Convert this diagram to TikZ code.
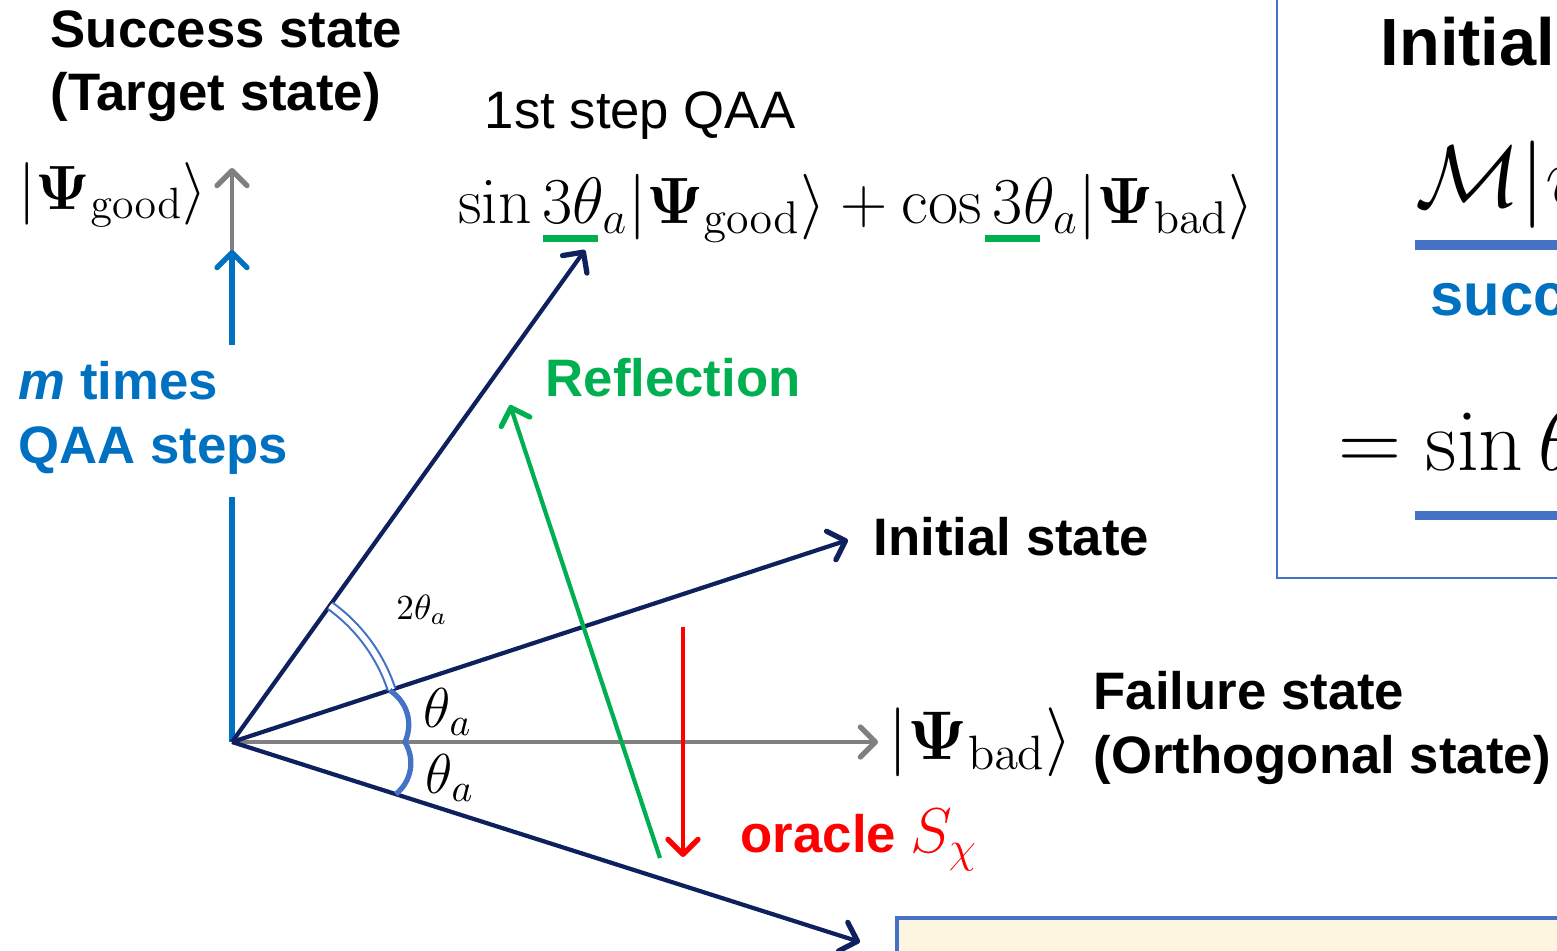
\RequirePackage{fix-cm}
\documentclass[tikz,border=0pt]{standalone}
\usepackage[no-math]{fontspec}
\setsansfont{Liberation Sans}
\usetikzlibrary{arrows.meta,calc}
\definecolor{qaanavy}{RGB}{14,32,94}
\definecolor{qaagray}{RGB}{128,128,128}
\definecolor{qaablue}{RGB}{0,112,192}
\definecolor{qaagreen}{RGB}{0,176,80}
\definecolor{qaared}{RGB}{255,0,0}
\definecolor{boxblue}{RGB}{68,114,196}
\definecolor{boxyellow}{RGB}{253,245,224}
\begin{document}
\begin{tikzpicture}
  [tip/.style={-{Straight Barb[length=1.5mm,width=3mm,line width=1.5pt,round]}},
   vec/.style={draw=qaanavy,line width=1.2pt,tip},
   axis/.style={draw=qaagray,line width=1.2pt,tip},
   lbl/.style={font=\sffamily\bfseries\fontsize{15}{18}\selectfont,align=left,inner sep=0pt},
   ket/.style={inner sep=0pt,font=\fontsize{17.8}{21}\selectfont},
   ang/.style={draw=boxblue,line width=1.5pt}]
  \useasboundingbox (0,0) rectangle (15.57,9.5);
  \clip (0,0) rectangle (15.57,9.5);
  % axes
  \coordinate (O) at (2.32,2.08);
  \coordinate (good) at (2.32,7.82);
  \coordinate (bad) at (8.78,2.08);
  \coordinate (mlow) at (2.32,4.53);
  \coordinate (mup) at (2.32,6.05);
  \coordinate (mtip) at (2.32,7.00);
  \draw[axis] (mup) -- (good);
  \draw[axis] (O) -- (bad);
  \node[ket,anchor=east] (goodlbl) at (2.08,7.55) {$|\mathbf{\Psi}_{\rm good}\rangle$};
  \node[ket,anchor=west,font=\fontsize{19.6}{23}\selectfont] (badlbl) at (8.88,2.08) {$|\mathbf{\Psi}_{\rm bad}\rangle$};
  % m times QAA steps
  \draw[qaablue,line width=1.8pt] (O) -- (mlow);
  \draw[qaablue,line width=1.8pt,tip] (mup) -- (mtip);
  \node[lbl,text=qaablue,anchor=west] (msteps) at (0.18,5.32)
    {\textit{m} times\\QAA steps};
  % state vectors
  \coordinate (init) at (8.48,4.10);
  \coordinate (step) at (5.85,7.00);
  \coordinate (low) at (8.60,0.08);
  \draw[vec] (O) -- (init);
  \draw[vec] (O) -- (step);
  \draw[vec] (O) -- (low);
  % angles
  \draw[boxblue,double=white,double distance=1.6pt,line width=0.6pt]
    ($(O)!1.68cm!(init)$) arc[start angle=18.2,end angle=54.3,radius=1.68cm];
  \coordinate (a1) at ($(O)!1.66cm!(init)$);
  \coordinate (a2) at (4.05,2.08);
  \coordinate (a3) at ($(O)!1.72cm!(low)$);
  \draw[ang] (a1) to[bend left=40] (a2) to[bend left=40] (a3);
  \node (twotheta) at (4.22,3.40) {$2\theta_a$};
  \node[font=\fontsize{16}{18}\selectfont] (theta1) at (4.48,2.38) {$\theta_a$};
  \node[font=\fontsize{16}{18}\selectfont] (theta2) at (4.50,1.72) {$\theta_a$};
  % reflection and oracle
  \coordinate (gstart) at (6.60,0.92);
  \coordinate (gend) at (5.10,5.45);
  \draw[qaagreen,line width=1.2pt,tip] (gstart) -- (gend);
  \node[lbl,text=qaagreen,anchor=west] (refl) at (5.45,5.72) {Reflection};
  \coordinate (rstart) at (6.83,3.23);
  \coordinate (rend) at (6.83,0.93);
  \draw[qaared,line width=1.1pt,tip] (rstart) -- (rend);
  \node[lbl,text=qaared,anchor=west] (oracle) at (7.40,1.10)
    {oracle \normalfont\fontsize{18}{20}\selectfont$S_\chi$};
  % labels
  \node[lbl,anchor=west] (succ) at (0.50,8.84) {Success state\\(Target state)};
  \node[lbl,font=\sffamily\fontsize{15}{18}\selectfont] (first) at (6.40,8.34) {1st step QAA};
  \node[ket,font=\fontsize{18.65}{22}\selectfont] (formula) at (8.56,7.42)
    {$\sin 3\theta_a|\mathbf{\Psi}_{\rm good}\rangle+\cos 3\theta_a|\mathbf{\Psi}_{\rm bad}\rangle$};
  \fill[qaagreen] (5.43,7.08) rectangle (5.98,7.15);
  \fill[qaagreen] (9.85,7.08) rectangle (10.40,7.15);
  \node[lbl,anchor=west] (initlbl) at (8.73,4.13) {Initial state};
  \node[lbl,anchor=west] (fail) at (10.93,2.22) {Failure state\\(Orthogonal state)};
  % side boxes
  \draw[boxblue,line width=0.7pt] (12.77,3.72) rectangle (16.5,10);
  \node[lbl,anchor=west,font=\sffamily\bfseries\fontsize{19}{22}\selectfont] (boxtitle) at (13.80,9.08) {Initial state};
  \node[anchor=west,inner sep=0pt,font=\fontsize{24.88}{28}\selectfont] (mpsi) at (14.15,7.65) {$\mathcal{M}|\psi\rangle$};
  \fill[boxblue] (14.15,7.00) rectangle (16.5,7.10);
  \node[lbl,text=qaablue,anchor=west,font=\sffamily\bfseries\fontsize{17}{20}\selectfont] (success) at (14.30,6.50) {success};
  \node[anchor=west,inner sep=0pt,font=\fontsize{24.88}{28}\selectfont] (sinth) at (13.38,5.10) {$=\sin\theta$};
  \fill[boxblue] (14.15,4.30) rectangle (16.5,4.39);
  \draw[boxblue,line width=1pt,fill=boxyellow] (8.97,0.32) rectangle (16.5,-1);
\end{tikzpicture}
\end{document}
